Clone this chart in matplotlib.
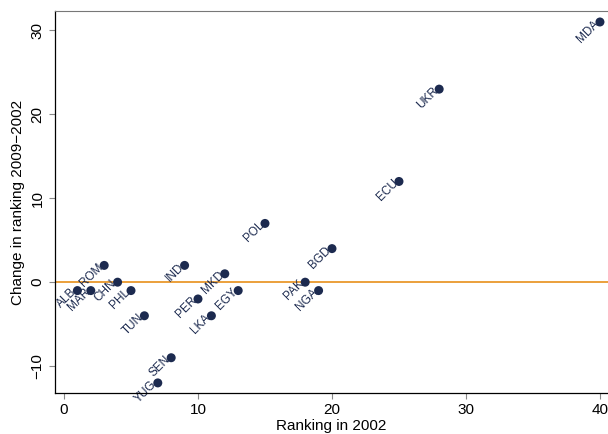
import matplotlib.pyplot as plt

countries = ['ALB', 'MAR', 'ROM', 'CHN', 'PHL', 'TUN', 'YUG', 'SEN', 'IND', 'PER',
             'LKA', 'MKD', 'EGY', 'POL', 'PAK', 'NGA', 'BGD', 'ECU', 'UKR', 'MDA']
rank_2002 = [1, 2, 3, 4, 5, 6, 7, 8, 9, 10, 11, 12, 13, 15, 18, 19, 20, 25, 28, 40]
rank_change = [-1, -1, 2, 0, -1, -4, -12, -9, 2, -2, -4, 1, -1, 7, 0, -1, 4, 12, 23, 31]
x_ticks = [0, 10, 20, 30, 40]
y_ticks = [-10, 0, 10, 20, 30]

plt.rcParams['font.family'] = ['Liberation Sans', 'DejaVu Sans']
navy = '#1c2a4f'
fig = plt.figure(figsize=(6.08, 4.34), dpi=100)
ax = fig.add_axes([0.0905, 0.0945, 0.9095, 0.880])

ax.axhline(0, color='#e8901a', lw=1.2, zorder=1)
ax.scatter(rank_2002, rank_change, s=42, color=navy, zorder=3, edgecolors='none')
for name, x, y in zip(countries, rank_2002, rank_change):
    ax.annotate(name, (x, y), xytext=(-2, 0), textcoords='offset points',
                rotation=45, rotation_mode='anchor', ha='right', va='center',
                fontsize=8.5, color=navy, zorder=2)

ax.set_xlim(-0.67, 40.6)
ax.set_ylim(-13.2, 32.3)
ax.set_xticks(x_ticks)
ax.set_yticks(y_ticks)
ax.set_yticklabels(['\u221210', '0', '10', '20', '30'], rotation=90, va='center')
ax.tick_params(labelsize=11, length=4, color='#888888', width=0.8)
ax.set_xlabel('Ranking in 2002', fontsize=11, labelpad=1)
ax.set_ylabel('Change in ranking 2009\u22122002', fontsize=11, labelpad=4)
ax.spines['right'].set_visible(False)
ax.spines['top'].set_color('#777777')
for s in ['left', 'bottom']:
    ax.spines[s].set_color('black')
    ax.spines[s].set_linewidth(0.9)

fig.savefig('out.png', dpi=100)
